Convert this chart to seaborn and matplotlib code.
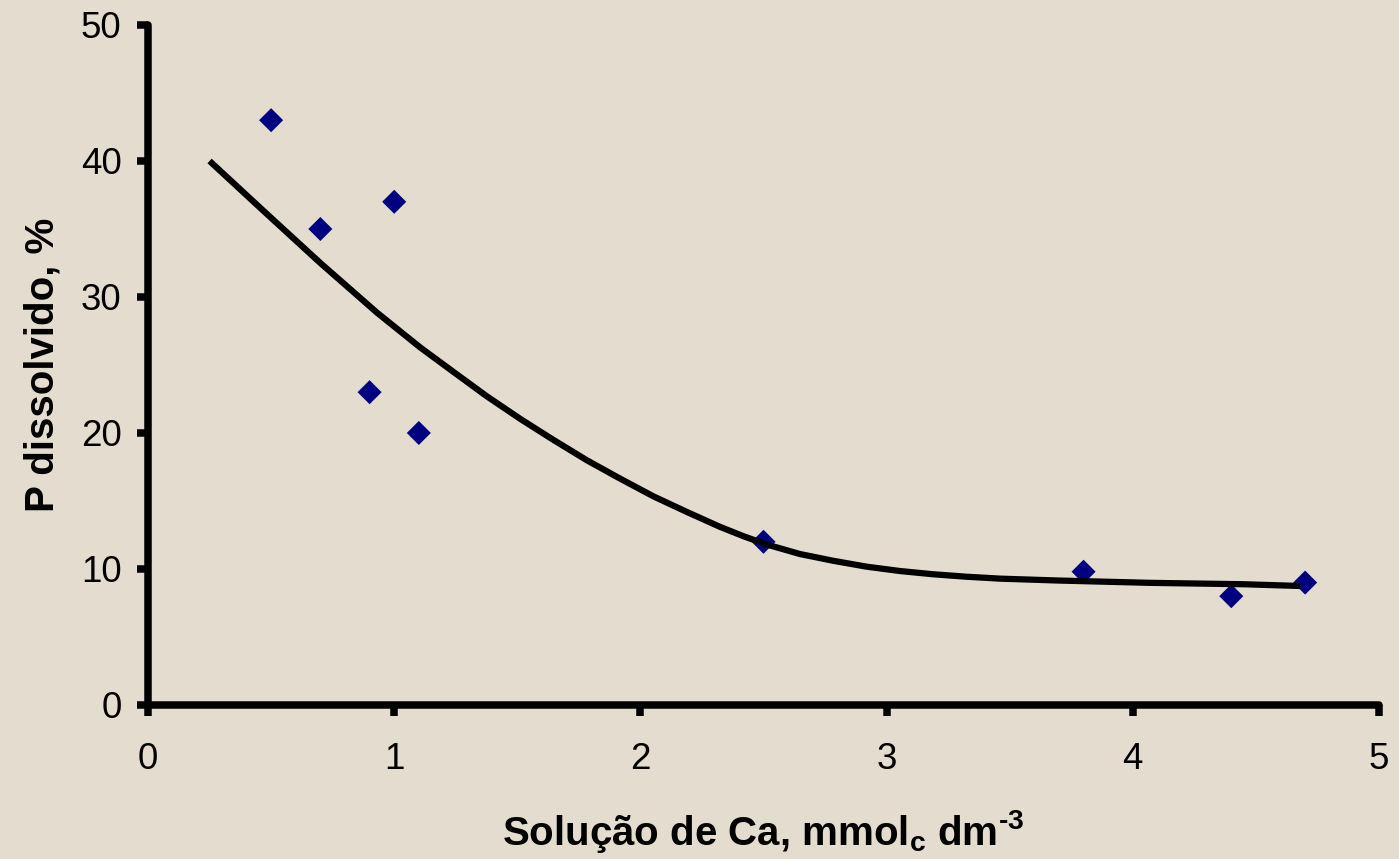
import numpy as np
import pandas as pd
import matplotlib
matplotlib.use("Agg")
import matplotlib.pyplot as plt
import seaborn as sns

# Calcium in solution (mmolc dm-3) and dissolved P (%)
ca_solution = [0.5, 0.7, 0.9, 1.0, 1.1, 2.5, 3.8, 4.4, 4.7]
p_dissolved = [43.0, 35.0, 23.0, 37.0, 20.0, 12.0, 9.8, 8.0, 9.0]

# Trend line through the observations
trend_ca = [0.25, 0.48, 0.70, 0.93, 1.105, 1.24, 1.376, 1.511, 1.646, 1.782,
            1.917, 2.052, 2.188, 2.323, 2.42, 2.513, 2.648, 2.784, 2.919,
            3.054, 3.19, 3.325, 3.461, 3.70, 4.073, 4.446, 4.68]
trend_p = [40.0, 36.15, 32.5, 28.85, 26.3, 24.5, 22.7, 21.05, 19.5, 18.0,
           16.65, 15.35, 14.2, 13.1, 12.4, 11.8, 11.1, 10.6, 10.17,
           9.85, 9.61, 9.43, 9.29, 9.15, 8.98, 8.88, 8.75]

x_ticks = [0, 1, 2, 3, 4, 5]
y_ticks = [0, 10, 20, 30, 40, 50]

bg = "#E4DCCE"

sns.set_theme(style="ticks")
plt.rcParams["font.family"] = ["Liberation Sans", "DejaVu Sans"]

fig = plt.figure(figsize=(13.99, 8.59), dpi=100, facecolor=bg)
ax = fig.add_axes([0.1058, 0.1793, 0.8799, 0.7916])
ax.set_facecolor(bg)

df = pd.DataFrame({"ca": ca_solution, "p": p_dissolved})
trend = pd.DataFrame({"ca": trend_ca, "p": trend_p})

sns.scatterplot(data=df, x="ca", y="p", marker="D", s=150, color="#000080",
                edgecolor="none", linewidth=0, ax=ax, zorder=3, clip_on=False)
sns.lineplot(data=trend, x="ca", y="p", color="black", linewidth=4.5,
             ax=ax, zorder=4, clip_on=False, sort=True,
             solid_joinstyle="round", solid_capstyle="butt")

ax.set_xlim(0, 5)
ax.set_ylim(0, 50)
ax.set_xticks(x_ticks)
ax.set_yticks(y_ticks)
ax.set_xticklabels([str(v) for v in x_ticks])
ax.set_yticklabels([str(v) for v in y_ticks])

for side in ("top", "right"):
    ax.spines[side].set_visible(False)
for side in ("left", "bottom"):
    ax.spines[side].set_linewidth(5.4)
    ax.spines[side].set_color("black")
    ax.spines[side].set_capstyle("round")

ax.tick_params(axis="both", which="major", direction="out", length=8,
               width=5.4, color="black", labelsize=26.5, labelcolor="black",
               left=True, bottom=True)
ax.tick_params(axis="y", pad=11)
ax.tick_params(axis="x", pad=19)
for t in ax.xaxis.get_ticklines() + ax.yaxis.get_ticklines():
    t.set_solid_capstyle("round")

ax.set_xlabel("Solução de Ca, mmol$_\\mathregular{c}$ dm$^\\mathregular{\u20103}$",
              fontsize=29, fontweight="bold", color="black", labelpad=22)
ax.set_ylabel("P dissolvido, %", fontsize=29, fontweight="bold",
              color="black", labelpad=14)
ax.grid(False)

fig.savefig("out.png", dpi=100, facecolor=bg)
